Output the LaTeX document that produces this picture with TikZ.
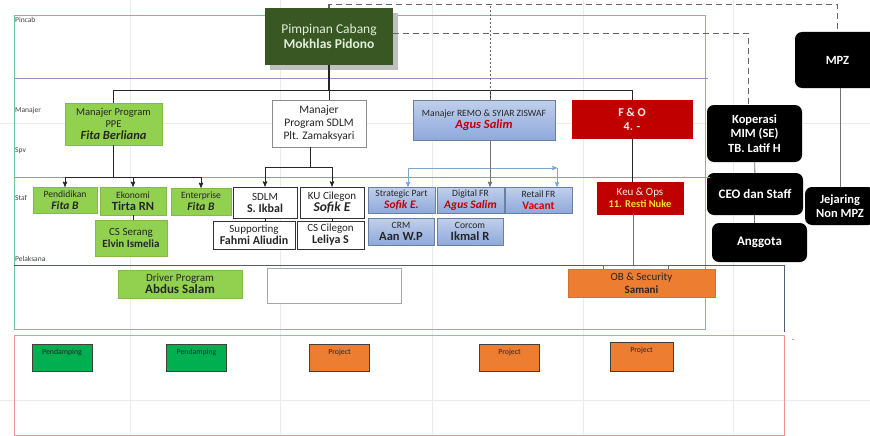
\documentclass[tikz,border=0pt]{standalone}
\usepackage{fontspec}
\setmainfont{Carlito}
\usetikzlibrary{arrows, shadows}

\definecolor{pincabgreen}{HTML}{385723}
\definecolor{cream}{HTML}{E2EFD9}
\definecolor{ppegreen}{HTML}{92D050}
\definecolor{remoblue}{HTML}{8EA9DB}
\definecolor{fored}{HTML}{C00000}
\definecolor{oborange}{HTML}{ED7D31}
\definecolor{padgreen}{HTML}{00B050}
\definecolor{framegreen}{HTML}{6CC596}
\definecolor{bandpurple}{HTML}{A38BC4}
\definecolor{bandred}{HTML}{EE7777}
\definecolor{slateline}{HTML}{4F5D75}
\definecolor{linkblue}{HTML}{7EA6CF}
\definecolor{nuke}{HTML}{FFE03B}

\newcommand{\fs}[1]{\fontsize{#1}{\fpeval{1.15*#1}}\selectfont}

\tikzset{
>=stealth', % small filled arrow heads
box/.style={align=center, inner sep=0pt, text=black!85}, % every chart box
greenbox/.style={box, fill=ppegreen, draw=ppegreen!90!black}, % PPE team
whitebox/.style={box, fill=white, draw=black!80, line width=0.9pt}, % SDLM team
bluebox/.style={box, top color=remoblue!55, bottom color=remoblue, draw=remoblue!75!black}, % REMO team
redbox/.style={box, fill=fored, draw=fored}, % F & O team
orangebox/.style={box, fill=oborange, draw=oborange!90!black}, % OB
blackbox/.style={box, fill=black, text=white, rounded corners=7pt, font=\fs{12.5}\bfseries}, % MPZ side
smallbox/.style={draw=black!75, line width=0.8pt, inner sep=0pt, minimum width=60, minimum height=27,
  label={[font=\fs{7.8}, text=black!85, anchor=north, yshift=-2pt]north:#1}}, % bottom row
lbl/.style={font=\fs{7.5}, text=black!75, anchor=west, inner sep=1pt}, % row names
link/.style={draw=black!85, line width=0.9pt}, % tree lines
bluelink/.style={draw=linkblue, line width=0.8pt}, % REMO bracket
greylink/.style={draw=black!55, line width=0.9pt}, % MPZ side lines
dashlink/.style={draw=black!60, line width=1.1pt, dash pattern=on 6pt off 4pt}, % dashed lines
dotlink/.style={draw=black!60, line width=0.7pt, dash pattern=on 2pt off 2pt}, % fine dashed line
grid/.style={draw=black!8, line width=0.5pt}, % sheet grid
}

\begin{document}
\begin{tikzpicture}[x=1pt, y=-1pt]
  \useasboundingbox (0,0) rectangle (870,436);

  % sheet grid
  \foreach \gx in {130,280,432,583,733} \draw[grid] (\gx,0) -- (\gx,436);
  \foreach \gy in {123,400} \draw[grid] (0,\gy) -- (870,\gy);

  % rows
  \draw[framegreen, line width=0.9pt] (14,15) rectangle (705,329);
  \draw[bandpurple, line width=0.9pt] (14,78) -- (708,78);
  \draw[slateline, line width=0.7pt] (14,265) -- (784,265) -- (784,332);
  \draw[bandred!80, line width=0.9pt] (14,335) rectangle (784,435);
  \node[lbl] (lpincab) at (14,20) {Pincab};
  \node[lbl] (lmanajer) at (14,111) {Manajer};
  \node[lbl] (lspv) at (14,151) {Spv};
  \node[lbl] (lstaf) at (14,198) {Staf};
  \node[lbl] (lpelaksana) at (14,259) {Pelaksana};
  \node[font=\fs{8}, text=black!70] (dash) at (793,341) {-};

  % head
  \node[box, fill=pincabgreen, text=cream, minimum width=128, minimum height=57,
    drop shadow={shadow xshift=5pt, shadow yshift=-5pt, fill=black!25, opacity=1},
    font=\fs{13.5}] (pincab) at (329,36.5)
    {Pimpinan Cabang\\ \textbf{Mokhlas Pidono}};

  % managers
  \node[greenbox, minimum width=97, minimum height=42] (ppe) at (113.5,124)
    {{\fs{10.5}Manajer Program}\\{\fs{10.5}PPE}\\{\fs{12.5}\bfseries\itshape Fita Berliana}};
  \node[box, fill=white, draw=black!45, minimum width=94, minimum height=47, font=\fs{11.5}] (sdlmmgr) at (319,123.5)
    {Manajer\\Program SDLM\\Plt. Zamaksyari};
  \node[bluebox, minimum width=142, minimum height=40] (remo) at (484,120)
    {{\fs{9.6}Manajer REMO \& SYIAR ZISWAF}\\{\fs{12.5}\bfseries\itshape\color{fored} Agus Salim}};
  \node[redbox, text=red!8, minimum width=120, minimum height=38, font=\fs{12}\bfseries] (fo) at (632,119)
    {F \& O\\4. -};

  % PPE staff
  \node[greenbox, minimum width=64, minimum height=26] (pend) at (65,200)
    {{\fs{9.6}Pendidikan}\\{\fs{11.5}\bfseries\itshape Fita B}};
  \node[greenbox, minimum width=66, minimum height=28] (eko) at (133,201)
    {{\fs{9.6}Ekonomi}\\{\fs{12.5}\bfseries Tirta RN}};
  \node[greenbox, minimum width=60, minimum height=27] (ent) at (201,201.5)
    {{\fs{9.6}Enterprise}\\{\fs{11.5}\bfseries\itshape Fita B}};
  \node[greenbox, minimum width=72, minimum height=36] (csser) at (131,238)
    {{\fs{11}CS Serang}\\{\fs{11}\bfseries Elvin Ismelia}};

  % SDLM staff
  \node[whitebox, minimum width=64, minimum height=31] (sdlm) at (265,202.5)
    {{\fs{11}SDLM}\\{\fs{12}\bfseries S. Ikbal}};
  \node[whitebox, minimum width=64, minimum height=31] (ku) at (332,202.5)
    {{\fs{11}KU Cilegon}\\{\fs{13.5}\bfseries\itshape Sofik E}};
  \node[whitebox, minimum width=82, minimum height=28] (supp) at (254,235)
    {{\fs{11}Supporting}\\{\fs{12}\bfseries Fahmi Aliudin}};
  \node[whitebox, minimum width=67, minimum height=28] (cscil) at (330.5,235)
    {{\fs{11}CS Cilegon}\\{\fs{12}\bfseries Leliya S}};

  % REMO staff
  \node[bluebox, minimum width=67, minimum height=26] (strat) at (401.5,200)
    {{\fs{9.6}Strategic Part}\\{\fs{11.5}\bfseries\itshape\color{fored} Sofik E.}};
  \node[bluebox, minimum width=67, minimum height=26] (digi) at (470.5,200)
    {{\fs{9.6}Digital FR}\\{\fs{11.5}\bfseries\itshape\color{fored} Agus Salim}};
  \node[bluebox, minimum width=67, minimum height=26] (retail) at (538.5,200)
    {{\fs{9.6}Retail FR}\\{\fs{11.5}\bfseries\color{red!85!black} Vacant}};
  \node[bluebox, minimum width=66, minimum height=27] (crm) at (401,231.5)
    {{\fs{9.6}CRM}\\{\fs{12.5}\bfseries Aan W.P}};
  \node[bluebox, minimum width=66, minimum height=27] (corcom) at (470,231.5)
    {{\fs{9.6}Corcom}\\{\fs{12.5}\bfseries Ikmal R}};

  % F & O staff
  \node[redbox, minimum width=86, minimum height=32] (keu) at (640,198)
    {{\fs{11}\color{red!8}Keu \& Ops}\\{\fs{10.5}\bfseries\color{nuke}11. Resti Nuke}};

  % pelaksana
  \node[greenbox, minimum width=124, minimum height=28] (driver) at (180,284)
    {{\fs{11}Driver Program}\\{\fs{13}\bfseries Abdus Salam}};
  \node[box, draw=black!35, fill=white, minimum width=134, minimum height=35] (blank) at (334,285.5) {};
  \node[orangebox, minimum width=147, minimum height=28, font=\fs{11}] (ob) at (641.5,283)
    {OB \& Security\\ \textbf{Samani}};

  % bottom row
  \node[smallbox=Pendamping, fill=padgreen] (pd1) at (62,357.5) {};
  \node[smallbox=Pendamping, fill=padgreen] (pd2) at (196.5,357.5) {};
  \node[smallbox=Project, fill=oborange] (pr1) at (339.5,357.5) {};
  \node[smallbox=Project, fill=oborange] (pr2) at (509.5,357.5) {};
  \node[smallbox=Project, fill=oborange, minimum width=63, minimum height=29] (pr3) at (641.5,356.5) {};

  % MPZ side
  \node[blackbox, minimum width=85, minimum height=56] (mpz) at (837.5,60) {MPZ};
  \node[blackbox, minimum width=95, minimum height=57] (kop) at (754.5,133.5) {Koperasi\\MIM (SE)\\TB. Latif H};
  \node[blackbox, minimum width=96, minimum height=42, font=\fs{13}\bfseries] (ceo) at (755,194) {CEO dan Staff};
  \node[blackbox, minimum width=95, minimum height=39, font=\fs{13}\bfseries] (ang) at (759.5,242.5) {Anggota};
  \node[blackbox, minimum width=70, minimum height=38] (jej) at (840,206) {Jejaring\\Non MPZ};

  % staff line
  \draw[bandred, line width=0.9pt] (14,177) -- (710,177);

  % tree
  \draw[link, line width=1.3pt] (pincab.south) -- ++(0,25) coordinate (bar);
  \draw[link] (ppe.north) |- (bar) -| (fo.north);
  \draw[link] (bar) -- (bar |- sdlmmgr.north);
  \draw[link] ([xshift=6pt]remo.north) -- ([xshift=6pt]remo.north |- bar);
  \draw[dotlink] ([xshift=6pt]remo.north) -- ++(0,-95);
  \draw[dashlink] (pincab.north) -- ++(0,-3) -| (mpz.north);
  \draw[dashlink] ([yshift=3pt]pincab.east) -| ([xshift=-6pt]kop.north);

  \coordinate (ppebar) at (113.5,177);
  \draw[link] (ppe.south) -- (ppebar);
  \draw[link, ->] (ppebar) -| (pend.north);
  \draw[link, ->] (ppebar) -| (eko.north);
  \draw[link, ->] (ppebar) -| (ent.north);
  \draw[link] (eko.south) -- (eko.south |- csser.north);

  \coordinate (sdlmbar) at (310,167);
  \draw[link] ([xshift=-9pt]sdlmmgr.south) -- (sdlmbar);
  \draw[link, ->] (sdlmbar) -| (sdlm.north);
  \draw[link, ->] (sdlmbar) -| (ku.north);
  \draw[link] (sdlm.south) -- (sdlm.south |- supp.north);
  \draw[link] (ku.south) -- (ku.south |- cscil.north);

  \coordinate (rl) at (408,168);
  \coordinate (rr) at (557,168);
  \draw[bluelink, ->] (rl) -- (rr);
  \draw[bluelink, ->] (rl) -- (rl |- strat.north);
  \draw[bluelink, ->] (rr) -- (rr |- retail.north);
  \draw[greylink, ->] ([xshift=6pt]remo.south) -- ([xshift=6pt]remo.south |- digi.north);

  \coordinate (obbar) at (633,265);
  \draw[link] (fo.south) -- (fo.south |- keu.north);
  \draw[greylink] (keu.south -| obbar) -- (obbar);
  \draw[greylink] ([xshift=-38pt]ob.north) |- (obbar) -| ([xshift=27pt]ob.north);

  \draw[greylink] (kop) -- (ceo);
  \draw[greylink] (ceo.south -| kop.south) -- (ang.north -| kop.south);
  \draw[greylink] (mpz.south -| jej.north) -- (jej.north);
\end{tikzpicture}
\end{document}
